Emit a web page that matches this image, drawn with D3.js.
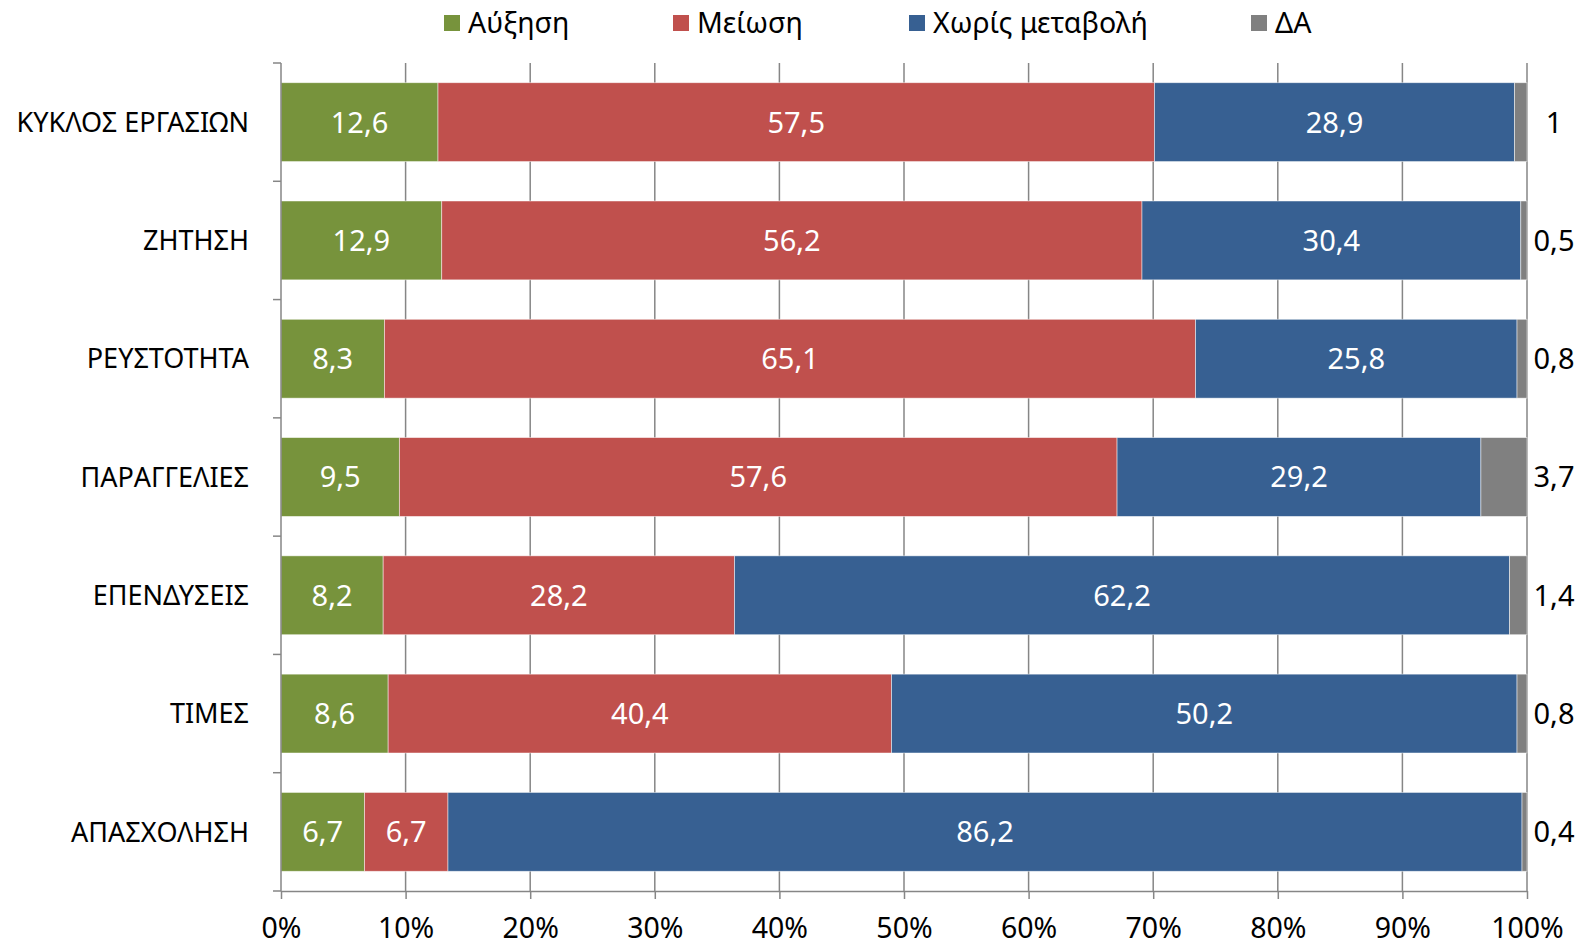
<!DOCTYPE html>
<html>
<head>
<meta charset="utf-8">
<script src="https://cdn.jsdelivr.net/npm/d3@7"></script>
<style>
  body { margin: 0; background: #fff; }
  text { font-family: "Noto Sans", "Open Sans", sans-serif; }
</style>
</head>
<body>
<script>
// DATA

var categories = ["ΚΥΚΛΟΣ ΕΡΓΑΣΙΩΝ", "ΖΗΤΗΣΗ", "ΡΕΥΣΤΟΤΗΤΑ", "ΠΑΡΑΓΓΕΛΙΕΣ", "ΕΠΕΝΔΥΣΕΙΣ", "ΤΙΜΕΣ", "ΑΠΑΣΧΟΛΗΣΗ"];
var seriesNames = ["Αύξηση", "Μείωση", "Χωρίς μεταβολή", "ΔΑ"];
var increase = [12.6, 12.9, 8.3, 9.5, 8.2, 8.6, 6.7];
var decrease = [57.5, 56.2, 65.1, 57.6, 28.2, 40.4, 6.7];
var noChange = [28.9, 30.4, 25.8, 29.2, 62.2, 50.2, 86.2];
var noAnswer = [1, 0.5, 0.8, 3.7, 1.4, 0.8, 0.4];
var xTicks = [0, 0.1, 0.2, 0.3, 0.4, 0.5, 0.6, 0.7, 0.8, 0.9, 1];

var colors = ["#77933C", "#C0504D", "#376092", "#808080"];

var svgWidth = 1584;
var svgHeight = 947;

var margin = {
    top: 63,
    right: 57,
    bottom: 56,
    left: 281
  };

var chartWidth = svgWidth - margin.left - margin.right;
var chartHeight = svgHeight - margin.top - margin.bottom;

var svg = d3
  .select("body")
  .append("svg")
  .attr("height", svgHeight)
  .attr("width", svgWidth);

var chartGroup = svg.append("g")
    .attr("transform", `translate(${margin.left}, ${margin.top})`);

// BUILD ROWS

var rows = categories.map(function(c, i) {
    return { category: c, "Αύξηση": increase[i], "Μείωση": decrease[i], "Χωρίς μεταβολή": noChange[i], "ΔΑ": noAnswer[i] };
});

var stacked = d3.stack().keys(seriesNames).offset(d3.stackOffsetExpand)(rows);

// SCALES

var xScale = d3.scaleLinear().domain([0, 1]).range([0, chartWidth]);
var yScale = d3.scaleBand()
    .domain(categories)
    .range([0, chartHeight])
    .paddingInner(1 / 3)
    .paddingOuter(1 / 6);

// GRIDLINES

chartGroup.append("g")
    .selectAll("line")
    .data(xTicks.slice(1))
    .enter()
    .append("line")
    .attr("x1", d => xScale(d))
    .attr("x2", d => xScale(d))
    .attr("y1", 0)
    .attr("y2", chartHeight)
    .attr("stroke", "#868686")
    .attr("stroke-width", 1.5);

// BARS

var layers = chartGroup.selectAll(".layer")
    .data(stacked)
    .enter()
    .append("g")
    .attr("class", "layer")
    .attr("fill", (d, i) => colors[i]);

layers.selectAll("rect")
    .data(d => d)
    .enter()
    .append("rect")
    .attr("x", d => xScale(d[0]))
    .attr("width", d => xScale(d[1]) - xScale(d[0]))
    .attr("y", d => yScale(d.data.category))
    .attr("height", yScale.bandwidth())
    .attr("stroke", "#ffffff")
    .attr("stroke-opacity", 0.6)
    .attr("stroke-width", 0.8);

// DATA LABELS

var fmt = function(v) { return String(v).replace(".", ","); };

layers.each(function(layer, li) {
    d3.select(this).selectAll("text")
      .data(layer)
      .enter()
      .append("text")
      .attr("x", d => li < 3 ? xScale((d[0] + d[1]) / 2) : chartWidth + 27)
      .attr("y", d => yScale(d.data.category) + yScale.bandwidth() / 2)
      .attr("dy", "0.36em")
      .attr("text-anchor", "middle")
      .attr("font-size", "29px")
      .attr("fill", li < 3 ? "#ffffff" : "#000000")
      .text(d => fmt(d.data[layer.key]));
});

// AXES

var bottomAxis = d3.axisBottom(xScale)
    .tickValues(xTicks)
    .tickFormat(d3.format(".0%"))
    .tickSizeInner(8)
    .tickSizeOuter(0)
    .tickPadding(19);

var xAxisGroup = chartGroup.append("g")
    .attr("transform", `translate(0, ${chartHeight})`)
    .call(bottomAxis);

xAxisGroup.selectAll("text").attr("font-size", "28.5px").attr("fill", "#000");

var leftAxisGroup = chartGroup.append("g");

leftAxisGroup.append("line")
    .attr("x1", 0).attr("x2", 0)
    .attr("y1", 0).attr("y2", chartHeight);

var bounds = categories.map(c => yScale(c) - yScale.step() * yScale.paddingInner() / 2);
bounds[0] = 0;
bounds.push(chartHeight);

leftAxisGroup.selectAll(".tick")
    .data(bounds)
    .enter()
    .append("line")
    .attr("x1", -8).attr("x2", 0)
    .attr("y1", d => d).attr("y2", d => d);

leftAxisGroup.selectAll("text")
    .data(categories)
    .enter()
    .append("text")
    .attr("x", -32)
    .attr("y", d => yScale(d) + yScale.bandwidth() / 2)
    .attr("dy", "0.36em")
    .attr("text-anchor", "end")
    .attr("font-size", "27px")
    .text(d => d);

svg.selectAll(".domain, .tick line, g line")
    .attr("stroke", "#868686")
    .attr("stroke-width", 1.5);

// LEGEND

var legendX = [444, 673, 909, 1251];

var legend = svg.append("g").selectAll("g")
    .data(seriesNames)
    .enter()
    .append("g")
    .attr("transform", (d, i) => `translate(${legendX[i]}, 23)`);

legend.append("rect")
    .attr("x", 0).attr("y", -8)
    .attr("width", 16).attr("height", 16)
    .attr("fill", (d, i) => colors[i]);

legend.append("text")
    .attr("x", 24)
    .attr("dy", "0.36em")
    .attr("font-size", "28.5px")
    .text(d => d);
</script>
</body>
</html>
